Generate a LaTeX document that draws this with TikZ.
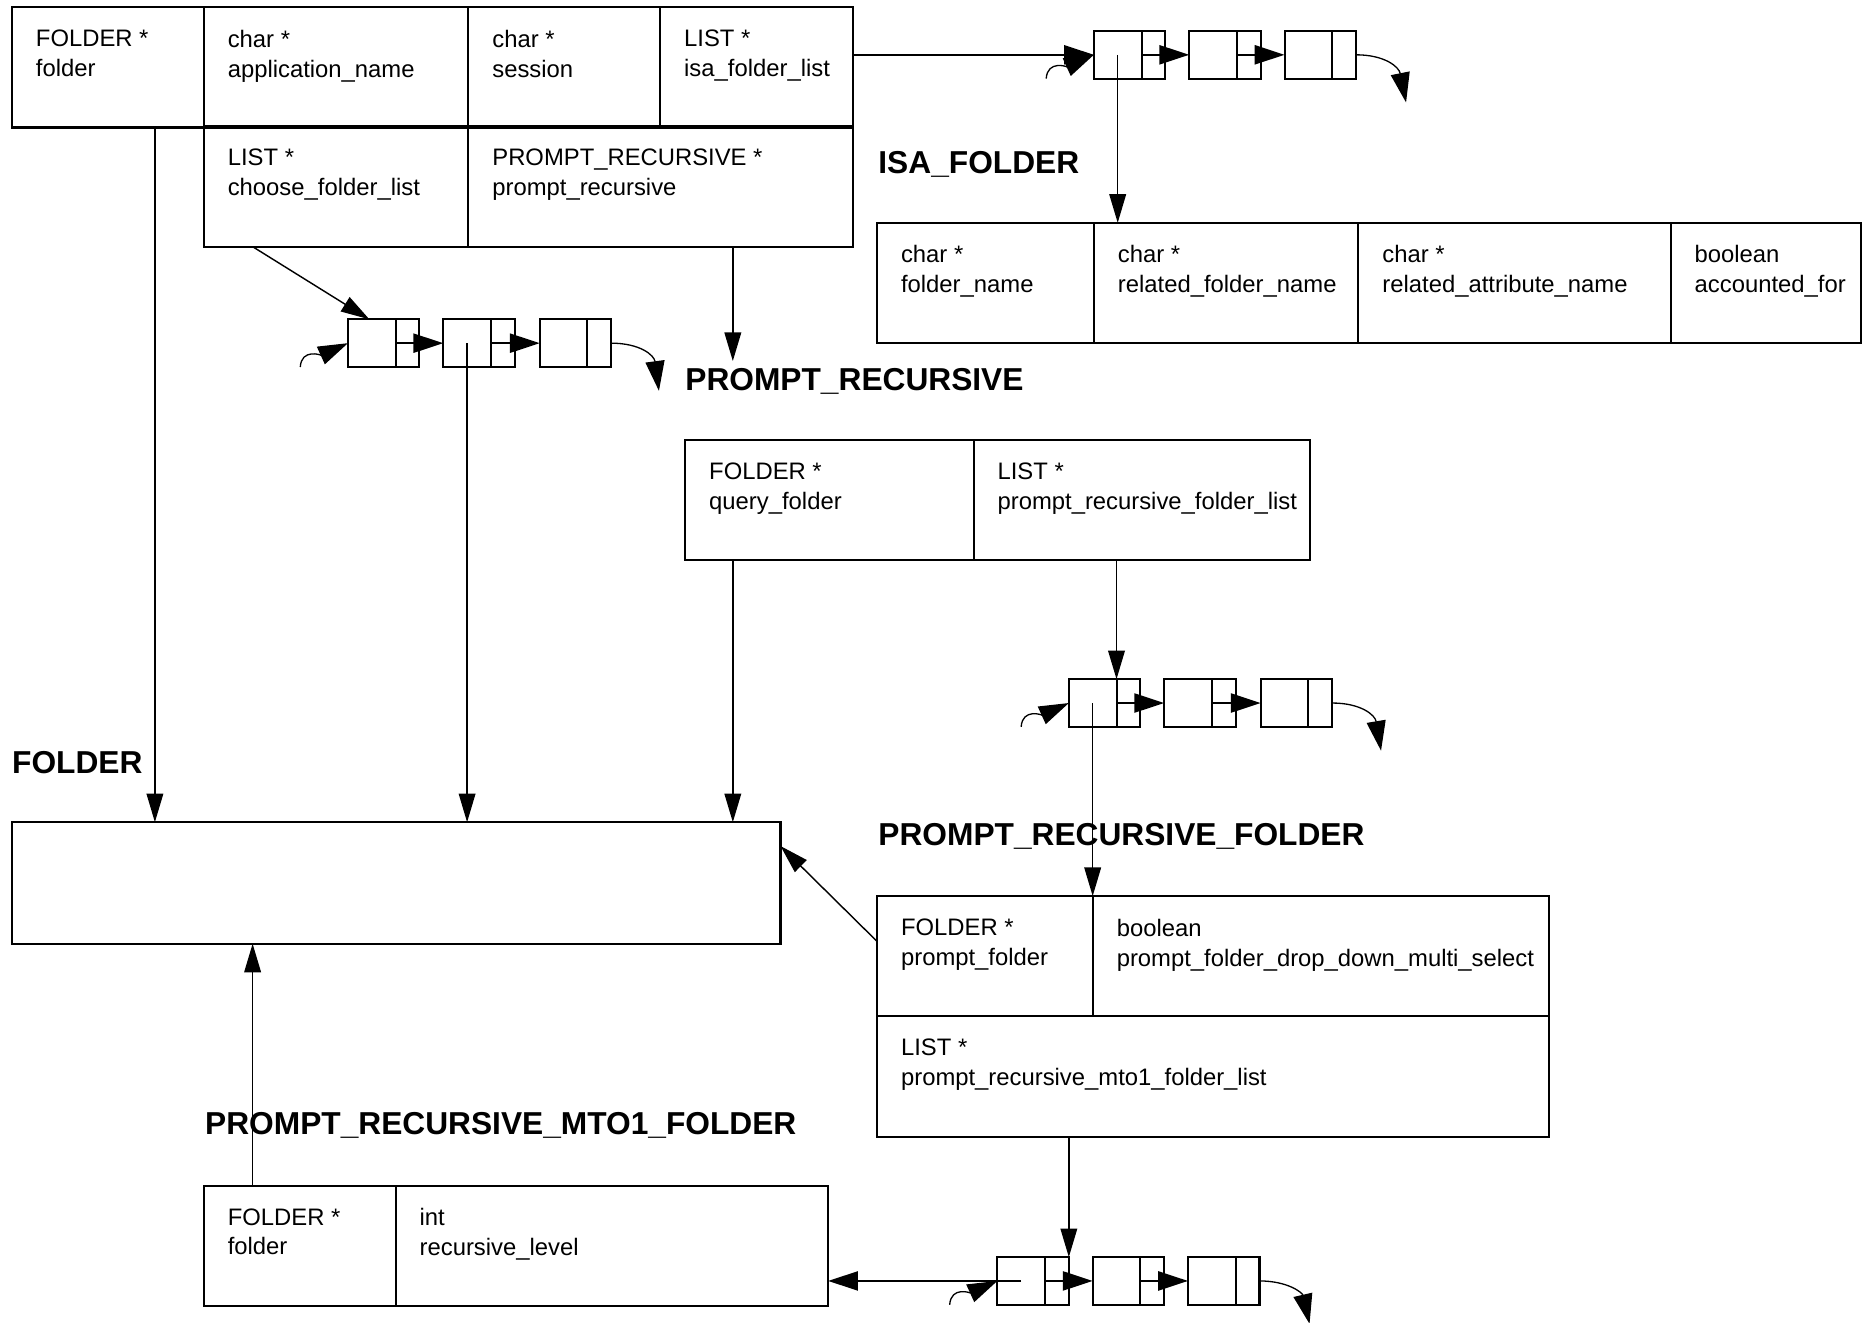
\documentclass[tikz,border=0pt]{standalone}
\usepackage{fontspec}
\setmainfont{Liberation Sans}
\usetikzlibrary{arrows.meta,positioning}

\tikzset{
  cell/.style={draw,line width=1.7pt,anchor=north west,inner sep=0pt,outer sep=0pt,minimum height=101pt},
  txt/.style={anchor=north west,align=left,inner sep=0pt,font=\fontsize{20}{25}\selectfont},
  structname/.style={anchor=base west,inner sep=0pt,font=\fontsize{26.6}{30}\selectfont\bfseries},
  elem/.style={draw,line width=1.7pt,anchor=north west,inner sep=0pt,outer sep=0pt,minimum width=60pt,minimum height=40pt},
  conn/.style={line width=1.2pt,-{Triangle[length=24pt,width=14pt]}},
  link/.style={line width=1.7pt,-{Triangle[length=25pt,width=16pt]}},
  curl/.style={line width=1.1pt,-{Triangle[length=25pt,width=16pt]}}
}

\begin{document}
\begin{tikzpicture}[x=1pt,y=-1pt]
	\useasboundingbox (0,0) rectangle (1566,1110.3);

	% application struct
	\node[cell,minimum width=161pt] (a1) at (10,6) {};
	\node[cell,minimum width=222pt] (a2) at (171,6) {};
	\node[cell,minimum width=161pt] (a3) at (393,6) {};
	\node[cell,minimum width=162pt] (a4) at (554,6) {};
	\node[cell,minimum width=222pt] (a5) at (171,106) {};
	\node[cell,minimum width=323pt] (a6) at (393,106) {};
	\node[txt] (a1t) at ([shift={(20,19)}]a1.north west) {FOLDER *\\folder};
	\node[txt] (a2t) at ([shift={(20,19)}]a2.north west) {char *\\application\_name};
	\node[txt] (a3t) at ([shift={(20,19)}]a3.north west) {char *\\session};
	\node[txt] (a4t) at ([shift={(20,19)}]a4.north west) {LIST *\\isa\_folder\_list};
	\node[txt] (a5t) at ([shift={(20,19)}]a5.north west) {LIST *\\choose\_folder\_list};
	\node[txt] (a6t) at ([shift={(20,19)}]a6.north west) {PROMPT\_RECURSIVE *\\prompt\_recursive};

	% ISA_FOLDER
	\node[structname] (isaname) at (737,145.5) {ISA\_FOLDER};
	\node[cell,minimum width=182pt] (i1) at (736,187) {};
	\node[cell,minimum width=222pt] (i2) at (918,187) {};
	\node[cell,minimum width=262pt] (i3) at (1140,187) {};
	\node[cell,minimum width=160pt] (i4) at (1402,187) {};
	\node[txt] (i1t) at ([shift={(20,19)}]i1.north west) {char *\\folder\_name};
	\node[txt] (i2t) at ([shift={(20,19)}]i2.north west) {char *\\related\_folder\_name};
	\node[txt] (i3t) at ([shift={(20,19)}]i3.north west) {char *\\related\_attribute\_name};
	\node[txt] (i4t) at ([shift={(20,19)}]i4.north west) {boolean\\accounted\_for};

	% PROMPT_RECURSIVE
	\node[structname] (prname) at (575,327.5) {PROMPT\_RECURSIVE};
	\node[cell,minimum width=242pt] (p1) at (575,369) {};
	\node[cell,minimum width=282pt] (p2) at (817,369) {};
	\node[txt] (p1t) at ([shift={(20,19)}]p1.north west) {FOLDER *\\query\_folder};
	\node[txt] (p2t) at ([shift={(20,19)}]p2.north west) {LIST *\\prompt\_recursive\_folder\_list};

	% FOLDER
	\node[structname] (foldername) at (10,649.5) {FOLDER};
	\node[cell,minimum width=645pt,minimum height=102pt] (f) at (10,690) {};

	% PROMPT_RECURSIVE_FOLDER
	\node[structname] (prfname) at (737,709.5) {PROMPT\_RECURSIVE\_FOLDER};
	\node[cell,minimum width=181pt] (r1) at (736,752) {};
	\node[cell,minimum width=383pt] (r2) at (917,752) {};
	\node[cell,minimum width=564pt] (r3) at (736,853) {};
	\node[txt] (r1t) at ([shift={(20,19)}]r1.north west) {FOLDER *\\prompt\_folder};
	\node[txt] (r2t) at ([shift={(20,19)}]r2.north west) {boolean\\prompt\_folder\_drop\_down\_multi\_select};
	\node[txt] (r3t) at ([shift={(20,19)}]r3.north west) {LIST *\\prompt\_recursive\_mto1\_folder\_list};

	% PROMPT_RECURSIVE_MTO1_FOLDER
	\node[structname] (mtoname) at (172,952.5) {PROMPT\_RECURSIVE\_MTO1\_FOLDER};
	\node[cell,minimum width=161pt] (m1) at (171,995) {};
	\node[cell,minimum width=363pt] (m2) at (332,995) {};
	\node[txt] (m1t) at ([shift={(20,19)}]m1.north west) {FOLDER *\\folder};
	\node[txt] (m2t) at ([shift={(20,19)}]m2.north west) {int\\recursive\_level};

	% list elements
	\node[elem] (ib1) at (918,26) {};
	\node[elem] (ib2) at (998,26) {};
	\node[elem] (ib3) at (1078,26) {};
	\node[elem] (cb1) at (292,268) {};
	\node[elem] (cb2) at (372,268) {};
	\node[elem] (cb3) at (453,268) {};
	\node[elem] (qb1) at (897,570) {};
	\node[elem] (qb2) at (977,570) {};
	\node[elem] (qb3) at (1058,570) {};
	\node[elem] (mb1) at (837,1055) {};
	\node[elem] (mb2) at (917,1055) {};
	\node[elem] (mb3) at (997,1055) {};

	\draw[line width=1.7pt] ([xshift=-20pt]ib1.north east) -- ([xshift=-20pt]ib1.south east);
	\draw[line width=1.7pt] ([xshift=-20pt]ib2.north east) -- ([xshift=-20pt]ib2.south east);
	\draw[line width=1.7pt] ([xshift=-20pt]ib3.north east) -- ([xshift=-20pt]ib3.south east);
	\draw[line width=1.7pt] ([xshift=-20pt]cb1.north east) -- ([xshift=-20pt]cb1.south east);
	\draw[line width=1.7pt] ([xshift=-20pt]cb2.north east) -- ([xshift=-20pt]cb2.south east);
	\draw[line width=1.7pt] ([xshift=-20pt]cb3.north east) -- ([xshift=-20pt]cb3.south east);
	\draw[line width=1.7pt] ([xshift=-20pt]qb1.north east) -- ([xshift=-20pt]qb1.south east);
	\draw[line width=1.7pt] ([xshift=-20pt]qb2.north east) -- ([xshift=-20pt]qb2.south east);
	\draw[line width=1.7pt] ([xshift=-20pt]qb3.north east) -- ([xshift=-20pt]qb3.south east);
	\draw[line width=1.7pt] ([xshift=-20pt]mb1.north east) -- ([xshift=-20pt]mb1.south east);
	\draw[line width=1.7pt] ([xshift=-20pt]mb2.north east) -- ([xshift=-20pt]mb2.south east);
	\draw[line width=1.7pt] ([xshift=-20pt]mb3.north east) -- ([xshift=-20pt]mb3.south east);

	\draw[link] ([xshift=10pt]ib1.center) -- (ib2.west);
	\draw[link] ([xshift=10pt]ib2.center) -- (ib3.west);
	\draw[link] ([xshift=10pt]cb1.center) -- (cb2.west);
	\draw[link] ([xshift=10pt]cb2.center) -- (cb3.west);
	\draw[link] ([xshift=10pt]qb1.center) -- (qb2.west);
	\draw[link] ([xshift=10pt]qb2.center) -- (qb3.west);
	\draw[link] ([xshift=10pt]mb1.center) -- (mb2.west);
	\draw[link] ([xshift=10pt]mb2.center) -- (mb3.west);

	\draw[curl] ([shift={(-40,20)}]ib1.west) .. controls ([shift={(-39,4)}]ib1.west) and ([shift={(-22,10)}]ib1.west) .. (ib1.west);
	\draw[curl] ([shift={(-40,20)}]cb1.west) .. controls ([shift={(-39,4)}]cb1.west) and ([shift={(-22,10)}]cb1.west) .. (cb1.west);
	\draw[curl] ([shift={(-40,20)}]qb1.west) .. controls ([shift={(-39,4)}]qb1.west) and ([shift={(-22,10)}]qb1.west) .. (qb1.west);
	\draw[curl] ([shift={(-40,20)}]mb1.west) .. controls ([shift={(-39,4)}]mb1.west) and ([shift={(-22,10)}]mb1.west) .. (mb1.west);
	\draw[curl] (ib3.east) .. controls ([shift={(24,0)}]ib3.east) and ([shift={(36,10)}]ib3.east) .. ([shift={(42,40)}]ib3.east);
	\draw[curl] (cb3.east) .. controls ([shift={(24,0)}]cb3.east) and ([shift={(36,10)}]cb3.east) .. ([shift={(40,40)}]cb3.east);
	\draw[curl] (qb3.east) .. controls ([shift={(24,0)}]qb3.east) and ([shift={(36,10)}]qb3.east) .. ([shift={(41,40)}]qb3.east);
	\draw[curl] (mb3.east) .. controls ([shift={(24,0)}]mb3.east) and ([shift={(36,10)}]mb3.east) .. ([shift={(42,36)}]mb3.east);

	% connectors
	\coordinate (a1o) at ([xshift=120pt]a1.south west);
	\coordinate (a5o) at ([xshift=41pt]a5.south west);
	\coordinate (a6o) at ([xshift=222pt]a6.south west);
	\coordinate (prtip) at (615,303);
	\coordinate (p1o) at ([xshift=40pt]p1.south west);
	\coordinate (p2o) at ([xshift=120pt]p2.south west);
	\coordinate (r1o) at ([shift={(0,38)}]r1.north west);
	\coordinate (r3o) at ([xshift=161pt]r3.south west);
	\coordinate (m1o) at ([xshift=41pt]m1.north west);
	\coordinate (fin) at ([shift={(0,20)}]f.north east);
	\coordinate (cbin) at ([xshift=18pt]cb1.north west);
	\coordinate (ib1p) at ([xshift=-10pt]ib1.center);
	\coordinate (cb2p) at ([xshift=-10pt]cb2.center);
	\coordinate (qb1p) at ([xshift=-10pt]qb1.center);
	\coordinate (mb1p) at ([xshift=-10pt]mb1.center);

	\draw[link] (a4.east |- ib1.west) -- (ib1.west);
	\draw[conn] (ib1p) -- (ib1p |- i2.north);
	\draw[conn] (a1o) -- (a1o |- f.north);
	\draw[conn] (a5o) -- (cbin);
	\draw[conn] (cb2p) -- (cb2p |- f.north);
	\draw[conn] (a6o) -- (prtip);
	\draw[conn] (p1o) -- (p1o |- f.north);
	\draw[conn] (p2o) -- (p2o |- qb1.north);
	\draw[conn] (qb1p) -- (qb1p |- r2.north);
	\draw[conn] (r1o) -- (fin);
	\draw[conn] (r3o) -- (r3o |- mb1.north);
	\draw[conn] (m1o) -- (m1o |- f.south);
	\draw[link] (mb1p) -- (mb1p -| m2.east);
\end{tikzpicture}
\end{document}
